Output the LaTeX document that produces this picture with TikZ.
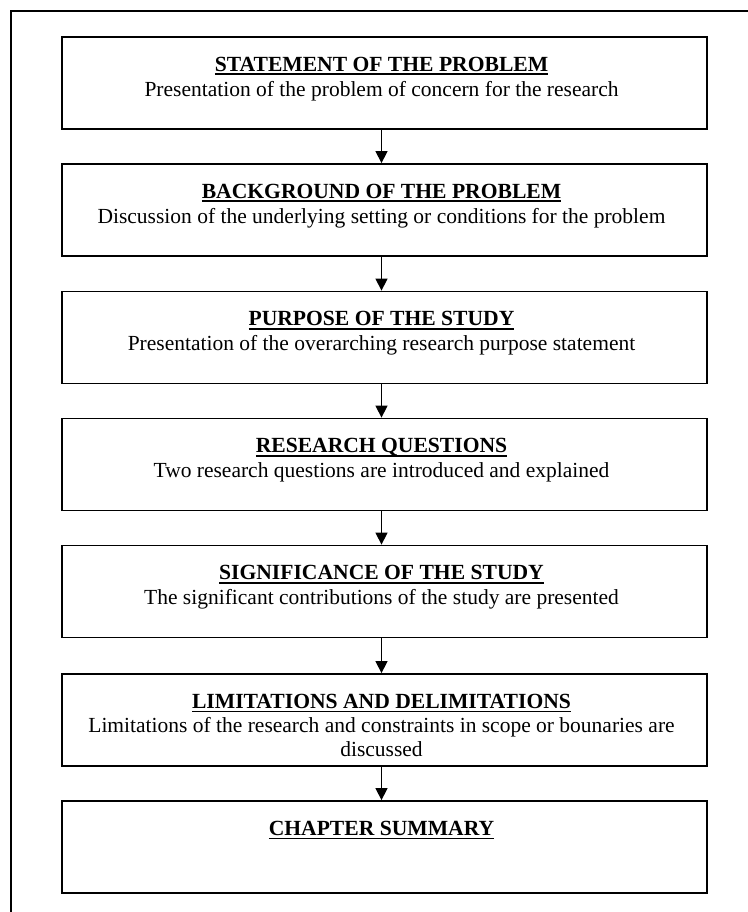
\documentclass[tikz,border=0pt]{standalone}
\usepackage{fontspec}
\setmainfont{Liberation Serif}
\usetikzlibrary{arrows.meta}

% bold heading with a heavy underline drawn at a fixed depth
\newcommand{\ulhead}[1]{\setbox0\hbox{\bfseries #1}\rlap{\rule[-4pt]{\wd0}{1.6pt}}\box0}

\tikzset{
  stagebox/.style={draw, line width=1.8pt, minimum width=645pt, minimum height=92pt, inner sep=0pt},
  headtext/.style={anchor=base, inner sep=0pt, font=\fontsize{21.6}{24}\selectfont},
  desctext/.style={anchor=base, inner sep=0pt, align=center, font=\fontsize{21.5}{23.5}\selectfont},
  flowarrow/.style={line width=1.4pt, -{Triangle[width=12pt,length=12pt]}},
  frameline/.style={line width=1.8pt}
}

\begin{document}
\begin{tikzpicture}[x=1pt,y=1pt]
  \useasboundingbox (0,0) rectangle (747,-912);

  % outer frame (continues past the page on the right and bottom)
  \coordinate (fbl) at (11,-940);
  \coordinate (ftl) at (11,-11);
  \coordinate (ftr) at (770,-11);
  \draw[frameline] (fbl) -- (ftl) -- (ftr);

  % stage boxes
  \node[stagebox] (b1) at (384.5,-83) {};
  \node[stagebox] (b2) at (384.5,-210) {};
  \node[stagebox] (b3) at (384.5,-337.5) {};
  \node[stagebox] (b4) at (384.5,-464.5) {};
  \node[stagebox] (b5) at (384.5,-591.5) {};
  \node[stagebox] (b6) at (384.5,-720) {};
  \node[stagebox] (b7) at (384.5,-847) {};

  % headings and descriptions (a multi-line description sits on its last line)
  \node[headtext] (h1) at ([xshift=-3pt,yshift=-35pt]b1.north) {\ulhead{STATEMENT OF THE PROBLEM}};
  \node[desctext] (d1) at ([xshift=-3pt,yshift=-60pt]b1.north) {Presentation of the problem of concern for the research};

  \node[headtext] (h2) at ([xshift=-3pt,yshift=-35pt]b2.north) {\ulhead{BACKGROUND OF THE PROBLEM}};
  \node[desctext] (d2) at ([xshift=-3pt,yshift=-60pt]b2.north) {Discussion of the underlying setting or conditions for the problem};

  \node[headtext] (h3) at ([xshift=-3pt,yshift=-35pt]b3.north) {\ulhead{PURPOSE OF THE STUDY}};
  \node[desctext] (d3) at ([xshift=-3pt,yshift=-60pt]b3.north) {Presentation of the overarching research purpose statement};

  \node[headtext] (h4) at ([xshift=-3pt,yshift=-35pt]b4.north) {\ulhead{RESEARCH QUESTIONS}};
  \node[desctext] (d4) at ([xshift=-3pt,yshift=-60pt]b4.north) {Two research questions are introduced and explained};

  \node[headtext] (h5) at ([xshift=-3pt,yshift=-35pt]b5.north) {\ulhead{SIGNIFICANCE OF THE STUDY}};
  \node[desctext] (d5) at ([xshift=-3pt,yshift=-60pt]b5.north) {The significant contributions of the study are presented};

  \node[headtext] (h6) at ([xshift=-3pt,yshift=-35pt]b6.north) {\ulhead{LIMITATIONS AND DELIMITATIONS}};
  \node[desctext] (d6) at ([xshift=-3pt,yshift=-83pt]b6.north) {Limitations of the research and constraints in scope or bounaries are\\discussed};

  \node[headtext] (h7) at ([xshift=-3pt,yshift=-35pt]b7.north) {\ulhead{CHAPTER SUMMARY}};

  % connectors
  \foreach \a/\b in {b1/b2, b2/b3, b3/b4, b4/b5, b5/b6, b6/b7}
    \draw[flowarrow] ([xshift=-3pt]\a.south) -- ([xshift=-3pt]\b.north);
\end{tikzpicture}
\end{document}
